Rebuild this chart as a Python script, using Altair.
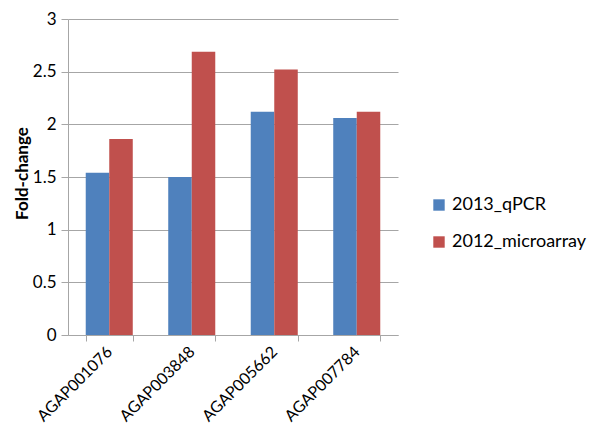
import altair as alt
import pandas as pd

genes = ["AGAP001076", "AGAP003848", "AGAP005662", "AGAP007784"]
series = ["2013_qPCR", "2012_microarray"]
qpcr = [1.54, 1.50, 2.12, 2.06]
microarray = [1.86, 2.69, 2.52, 2.12]
colors = ["#4F81BD", "#C0504D"]
y_ticks = [0, 0.5, 1, 1.5, 2, 2.5, 3]

rows = []
for g, a, b in zip(genes, qpcr, microarray):
    rows.append({"gene": g, "series": series[0], "value": a})
    rows.append({"gene": g, "series": series[1], "value": b})
df = pd.DataFrame(rows)

FONT = "Lato"
GRAY = "#a6a6a6"
PLOT_H = 316

chart = alt.Chart(df).mark_bar().encode(
    x=alt.X("gene:N", sort=genes, title=None,
            scale=alt.Scale(paddingInner=0.43, paddingOuter=0.215),
            axis=alt.Axis(labelAngle=-45, labelAlign="right", labelBaseline="middle",
                          labelFontSize=16, labelFont=FONT, labelColor="#000000",
                          tickBand="extent", tickSize=6, tickColor=GRAY,
                          domainColor=GRAY, labelPadding=8)),
    xOffset=alt.XOffset("series:N", sort=series),
    y=alt.Y("value:Q", title="Fold-change",
            scale=alt.Scale(domain=[0, 3], nice=False),
            axis=alt.Axis(values=y_ticks, format="~g",
                          labelFontSize=17, labelFont=FONT, labelColor="#000000",
                          titleFont=FONT, titleFontSize=17, titleFontWeight="bold",
                          titleColor="#000000", titleX=-37, titleY=PLOT_H / 2 - 4,
                          titleAlign="center", titleBaseline="bottom", titleAngle=270,
                          grid=True, gridColor=GRAY, tickColor=GRAY,
                          domainColor=GRAY, tickSize=7, labelPadding=5)),
    color=alt.Color("series:N", sort=series, title=None,
                    scale=alt.Scale(domain=series, range=colors),
                    legend=alt.Legend(orient="none", legendX=362, legendY=177,
                                      symbolType="square", symbolSize=130,
                                      symbolStrokeWidth=0, labelFont=FONT,
                                      labelFontSize=18, labelColor="#000000",
                                      rowPadding=19, labelOffset=4)),
).properties(
    width=330, height=PLOT_H,
    autosize=alt.AutoSizeParams(type="none"),
    padding={"left": 60, "top": 11, "right": 192, "bottom": 97},
).configure_view(stroke=None)

chart.save("out.html", embed_options={"renderer": "svg", "actions": False})
